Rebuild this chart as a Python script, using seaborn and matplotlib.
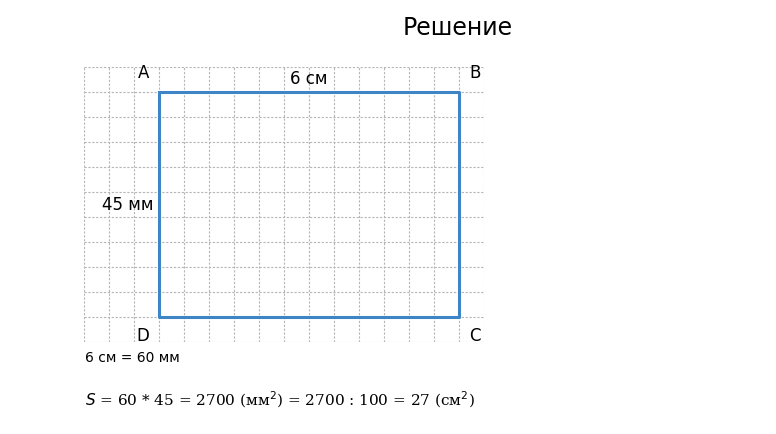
import matplotlib
matplotlib.use("Agg")
import matplotlib.pyplot as plt
import seaborn as sns
import numpy as np
import pandas as pd

sns.set_style("white")
plt.rcParams['font.family'] = ['DejaVu Sans']
plt.rcParams['text.color'] = 'black'

# rectangle corners in cm (A, B, C, D, A)
rect_x = [0, 6, 6, 0, 0]
rect_y = [4.5, 4.5, 0, 0, 4.5]
corner_labels = ["A", "B", "C", "D"]
grid_step = 0.5

fig = plt.figure(figsize=(7.76, 4.34), dpi=100)
W, H = 776, 434
ax = fig.add_axes([84/W, (H-342)/H, 400/W, 275/H])
xmin, xmax, ymin, ymax = -1.5, 6.5, -0.5, 5.0
ax.set_xlim(xmin, xmax)
ax.set_ylim(ymin, ymax)
for x in np.arange(xmin, xmax + 0.01, grid_step):
    ax.axvline(x, color="#b5b5b5", lw=0.8, ls=(0, (2, 1.5)), zorder=1)
for y in np.arange(ymin, ymax + 0.01, grid_step):
    ax.axhline(y, color="#b5b5b5", lw=0.8, ls=(0, (2, 1.5)), zorder=1)
df = pd.DataFrame({"x": rect_x, "y": rect_y})
sns.lineplot(data=df, x="x", y="y", sort=False, estimator=None,
             color="#3d85c6", lw=2.2, ax=ax, zorder=3)
ax.set_axis_off()

off = 0.2
pos = {"A": (-off, 4.5 + off, "right", "bottom"), "B": (6 + off, 4.5 + off, "left", "bottom"),
       "C": (6 + off, -off, "left", "top"), "D": (-off, -off, "right", "top")}
for lab in corner_labels:
    x, y, ha, va = pos[lab]
    ax.text(x, y, lab, fontsize=12, ha=ha, va=va, color="black")
ax.text(3, 4.58, "6 см", fontsize=12, ha="center", va="bottom", color="black")
ax.text(-0.1, 2.25, "45 мм", fontsize=12, ha="right", va="center", color="black")

fig.text(458/W, 1 - 28/H, "Решение", fontsize=17, ha="center", va="center", color="black")
fig.text(85/W, 1 - 358/H, "6 см = 60 мм", fontsize=10, ha="left", va="center", color="black")
fig.text(85/W, 1 - 400/H,
         r"$S$ = 60 * 45 = 2700 (мм$^2$) = 2700 : 100 = 27 (см$^2$)",
         fontsize=11, ha="left", va="center", family="DejaVu Serif", color="black")
fig.savefig("out.png", dpi=100)
